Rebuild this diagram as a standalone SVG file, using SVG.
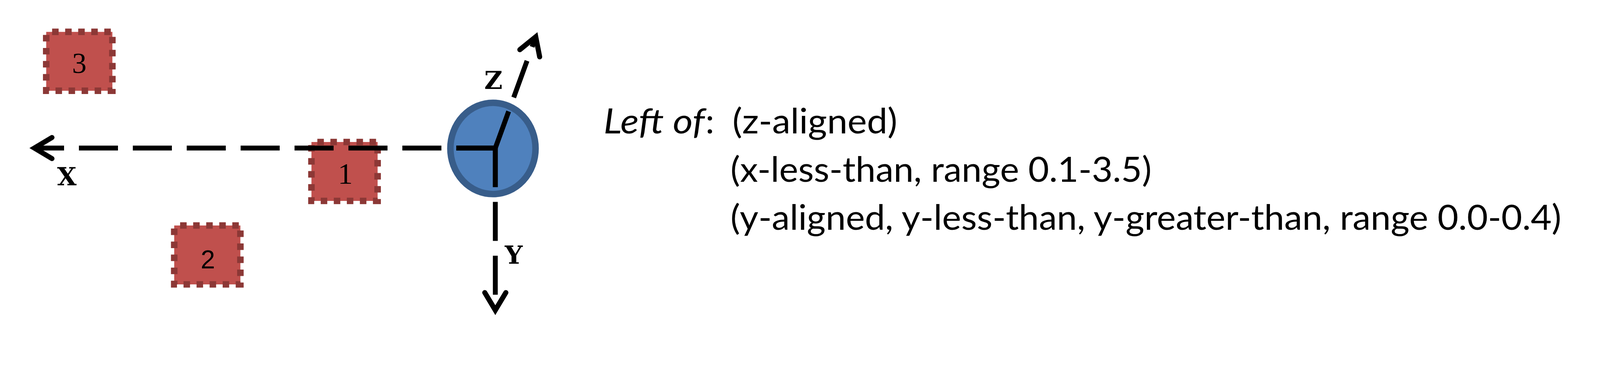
<svg xmlns="http://www.w3.org/2000/svg" width="4224" height="951" viewBox="0 0 4224 951">
<style>
.box{fill:#C0504D;stroke:#8C3836;stroke-width:16.7;stroke-dasharray:16.7 16.7;stroke-dashoffset:18.3}
.num{font-family:"Liberation Serif","Times New Roman",serif;fill:#000;text-anchor:middle}
.ax{stroke:#000;stroke-width:12.5;fill:none;stroke-dasharray:100 38;stroke-linecap:butt}
.axs{stroke:#000;stroke-width:12.5;fill:none;stroke-linejoin:miter}
.lbl{font-family:"DejaVu Serif","Liberation Serif",serif;font-weight:bold;font-size:64px;fill:#000;text-anchor:middle}
.desc{font-family:Lato,"Open Sans",sans-serif;font-size:90px;fill:#000}
</style>
<defs>
<marker id="arr" markerUnits="userSpaceOnUse" orient="auto" refX="0" refY="0" markerWidth="10" markerHeight="10" overflow="visible">
<path d="M-45,-27 L0,0 L-45,27" fill="none" stroke="#000" stroke-width="13" stroke-linecap="round" stroke-linejoin="miter"/>
</marker>
</defs>
<rect width="4224" height="951" fill="#fff"/>
<g id="box3">
<rect class="box" x="118.3" y="81.7" width="169.4" height="151"/>
<text class="num" x="203" y="187" font-size="74">3</text>
</g>
<g id="box1">
<rect class="box" x="797.3" y="364" width="169.4" height="151"/>
<text class="num" x="884" y="471" font-size="76">1</text>
</g>
<g id="box2">
<rect class="box" x="446" y="578" width="169.4" height="151"/>
<text x="532" y="688" font-size="66" font-family="'Liberation Sans',Arial,sans-serif" text-anchor="middle" fill="#000">2</text>
</g>
<g id="sensor">
<ellipse cx="1262" cy="380.5" rx="109" ry="117" fill="#4F81BD" stroke="#385D8A" stroke-width="16.7"/>
</g>
<g id="connectors">
<line class="ax" x1="1268" y1="379.5" x2="88" y2="379.5" marker-end="url(#arr)"/>
<line class="ax" x1="1268" y1="379.5" x2="1268" y2="795" marker-end="url(#arr)"/>
<line class="ax" x1="1268" y1="379.5" x2="1371.5" y2="94.3" marker-end="url(#arr)"/>
<path class="axs" d="M1168,379.5 L1268,379.5 L1268,479.5"/>
</g>
<g id="axis-labels">
<text class="lbl" x="171" y="475">X</text>
<text class="lbl" x="1263" y="228">Z</text>
<text class="lbl" x="1315" y="676">Y</text>
</g>
<g id="description">
<text class="desc" x="1545" y="342" font-style="italic" textLength="259" lengthAdjust="spacingAndGlyphs">Left of</text>
<text class="desc" x="1806" y="342">:</text>
<text class="desc" x="1875" y="342" textLength="422" lengthAdjust="spacingAndGlyphs">(z-aligned)</text>
<text class="desc" x="1870" y="466" textLength="1078" lengthAdjust="spacingAndGlyphs">(x-less-than, range 0.1-3.5)</text>
<text class="desc" x="1870" y="589" textLength="2127" lengthAdjust="spacingAndGlyphs">(y-aligned, y-less-than, y-greater-than, range 0.0-0.4)</text>
</g>
</svg>
